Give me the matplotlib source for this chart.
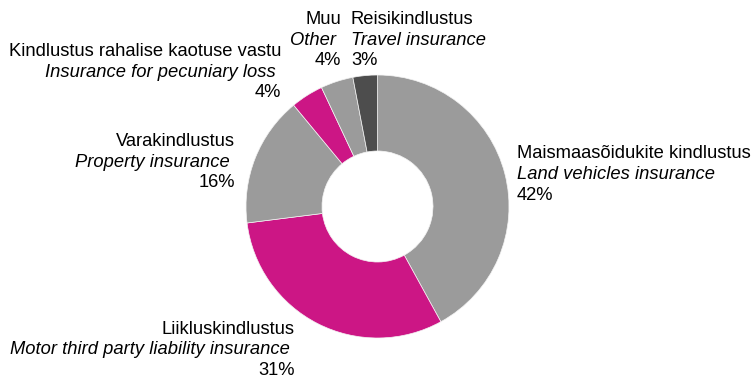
import matplotlib
matplotlib.use("Agg")
import matplotlib.pyplot as plt

# Gross premiums by class of insurance, share of total (%)
names_et = [
    "Maismaasõidukite kindlustus",
    "Liikluskindlustus",
    "Varakindlustus",
    "Kindlustus rahalise kaotuse vastu",
    "Muu",
    "Reisikindlustus",
]
names_en = [
    "Land vehicles insurance",
    "Motor third party liability insurance",
    "Property insurance",
    "Insurance for pecuniary loss",
    "Other",
    "Travel insurance",
]
shares = [42, 31, 16, 4, 4, 3]
colors = ["#9b9b9b", "#cc1685", "#9b9b9b", "#cc1685", "#9b9b9b", "#4d4d4d"]

W, H = 753, 379
fig = plt.figure(figsize=(W / 100, H / 100), dpi=100)
ax = fig.add_axes([0, 0, 1, 1])

cx, cy = 377.5, H - 206.5
r_out, r_in = 131.5, 55.5
ax.pie(
    shares,
    colors=colors,
    startangle=90,
    counterclock=False,
    radius=r_out,
    center=(cx, cy),
    wedgeprops=dict(width=r_out - r_in, edgecolor="#f4f4f4", linewidth=0.5),
)
ax.set_xlim(0, W)
ax.set_ylim(0, H)
ax.set_aspect("equal")
ax.axis("off")

font = "Liberation Sans"
fs = 13.2
step = 20.7

# label anchor: (x, first baseline from top, horizontal alignment)
anchors = [
    (517, 158.3, "left"),
    (295, 333.5, "right"),
    (235, 146.0, "right"),
    (281, 56.0, "right"),
    (341, 24.0, "right"),
    (351, 24.0, "left"),
]

for et, en, v, (x, y0, ha) in zip(names_et, names_en, shares, anchors):
    lines = [(et, "normal"), (en + " ", "italic"), (f"{v}%", "normal")]
    if ha == "left":
        lines[1] = (en, "italic")
    for i, (txt, style) in enumerate(lines):
        ax.text(x, H - (y0 + i * step), txt, ha=ha, va="baseline",
                fontsize=fs, fontstyle=style, family=font, color="#000000")

fig.savefig("out.png", dpi=100)
